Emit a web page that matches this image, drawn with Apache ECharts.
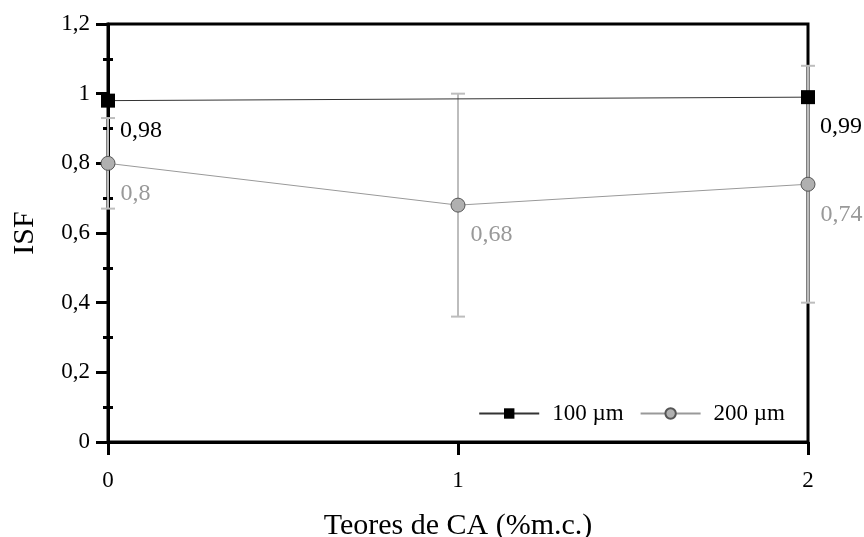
<!DOCTYPE html>
<html><head><meta charset="utf-8">
<script src="https://cdn.jsdelivr.net/npm/echarts@6/dist/echarts.min.js"></script>
<style>html,body{margin:0;padding:0;background:#fff}#c{width:864px;height:537px}</style>
</head><body><div id="c"></div>
<script>
const xTicks = [0, 1, 2];
const s100x = [0, 2];
const s100y = [0.98, 0.99];
const s200x = [0, 1, 2];
const s200y = [0.80, 0.68, 0.74];
const s200err = [0.13, 0.32, 0.34];
const FONT = '"Liberation Serif", "Times New Roman", serif';
const fmt = v => String(v).replace('.', ',');

const d100 = s100x.map((x, i) => [x, s100y[i]]);
const d200 = s200x.map((x, i) => [x, s200y[i]]);
const dErr = s200x.map((x, i) => [x, s200y[i] - s200err[i], s200y[i] + s200err[i]]);

const chart = echarts.init(document.getElementById('c'));
chart.setOption({
  animation: false,
  textStyle: { fontFamily: FONT },
  grid: { left: 108, right: 56, top: 24, bottom: 95, containLabel: false, outerBoundsMode: 'none',
          show: true, borderColor: '#000', borderWidth: 3 },
  legend: {
    right: 74, top: 397, itemWidth: 60, itemHeight: 13, itemGap: 16,
    textStyle: { fontFamily: FONT, fontSize: 23, color: '#000', padding: [0, 0, 0, 8] },
    data: ['100 µm', '200 µm']
  },
  xAxis: {
    type: 'value', min: 0, max: 2, interval: 1,
    name: 'Teores de CA (%m.c.)', nameLocation: 'middle', nameGap: 69,
    nameTextStyle: { fontFamily: FONT, fontSize: 30, color: '#000' },
    axisLine: { show: true, lineStyle: { color: '#000', width: 3 } },
    axisTick: { show: true, length: 13, lineStyle: { color: '#000', width: 3 } },
    axisLabel: { fontFamily: FONT, fontSize: 23, color: '#000', margin: 27, formatter: v => fmt(v) },
    splitLine: { show: false }
  },
  yAxis: [{
    type: 'value', min: 0, max: 1.2, interval: 0.2,
    name: 'ISF', nameLocation: 'middle', nameGap: 68,
    nameTextStyle: { fontFamily: FONT, fontSize: 30, color: '#000' },
    axisLine: { show: true, lineStyle: { color: '#000', width: 3 } },
    axisTick: { show: true, length: 12, lineStyle: { color: '#000', width: 3 } },
    minorTick: { show: true, splitNumber: 2, length: 5, lineStyle: { color: '#000', width: 3 } },
    axisLabel: { fontFamily: FONT, fontSize: 23, color: '#000', margin: 18, formatter: v => fmt(Math.round(v * 10) / 10) },
    splitLine: { show: false }
  }, {
    type: 'value', min: 0, max: 1.2, interval: 0.2, position: 'left', offset: 0,
    axisLine: { show: false },
    axisTick: { show: false, inside: true },
    minorTick: { show: true, splitNumber: 2, length: 5, lineStyle: { color: '#000', width: 3 } },
    axisLabel: { show: false },
    splitLine: { show: false }
  }],
  series: [
    {
      type: 'custom', name: 'err200', z: 3, silent: true,
      data: dErr,
      renderItem: function (params, api) {
        const x = api.value(0);
        const lo = api.coord([x, api.value(1)]);
        const hi = api.coord([x, api.value(2)]);
        const hw = 7;
        const st = { stroke: '#bdbdbd', lineWidth: 2 };
        return {
          type: 'group', children: [
            { type: 'line', shape: { x1: lo[0], y1: lo[1], x2: hi[0], y2: hi[1] }, style: st },
            { type: 'line', shape: { x1: lo[0] - hw, y1: lo[1], x2: lo[0] + hw, y2: lo[1] }, style: st },
            { type: 'line', shape: { x1: hi[0] - hw, y1: hi[1], x2: hi[0] + hw, y2: hi[1] }, style: st }
          ]
        };
      },
      clip: false
    },
    {
      type: 'line', name: '100 µm', data: d100, z: 5, clip: false,
      symbol: 'rect', symbolSize: 14,
      itemStyle: { color: '#000' },
      lineStyle: { color: '#333', width: 1 },
      label: {
        show: true, position: 'right', distance: 5, offset: [0, 30],
        fontFamily: FONT, fontSize: 24, color: '#000',
        formatter: p => fmt(p.value[1])
      }
    },
    {
      type: 'line', name: '200 µm', data: d200, z: 4, clip: false,
      symbol: 'circle', symbolSize: 14,
      itemStyle: { color: '#b0b0b0', borderColor: '#555', borderWidth: 1 },
      lineStyle: { color: '#999', width: 1 },
      label: {
        show: true, position: 'right', distance: 5, offset: [0, 30],
        fontFamily: FONT, fontSize: 24, color: '#999',
        formatter: p => fmt(p.value[1])
      }
    }
  ]
});
</script></body></html>
